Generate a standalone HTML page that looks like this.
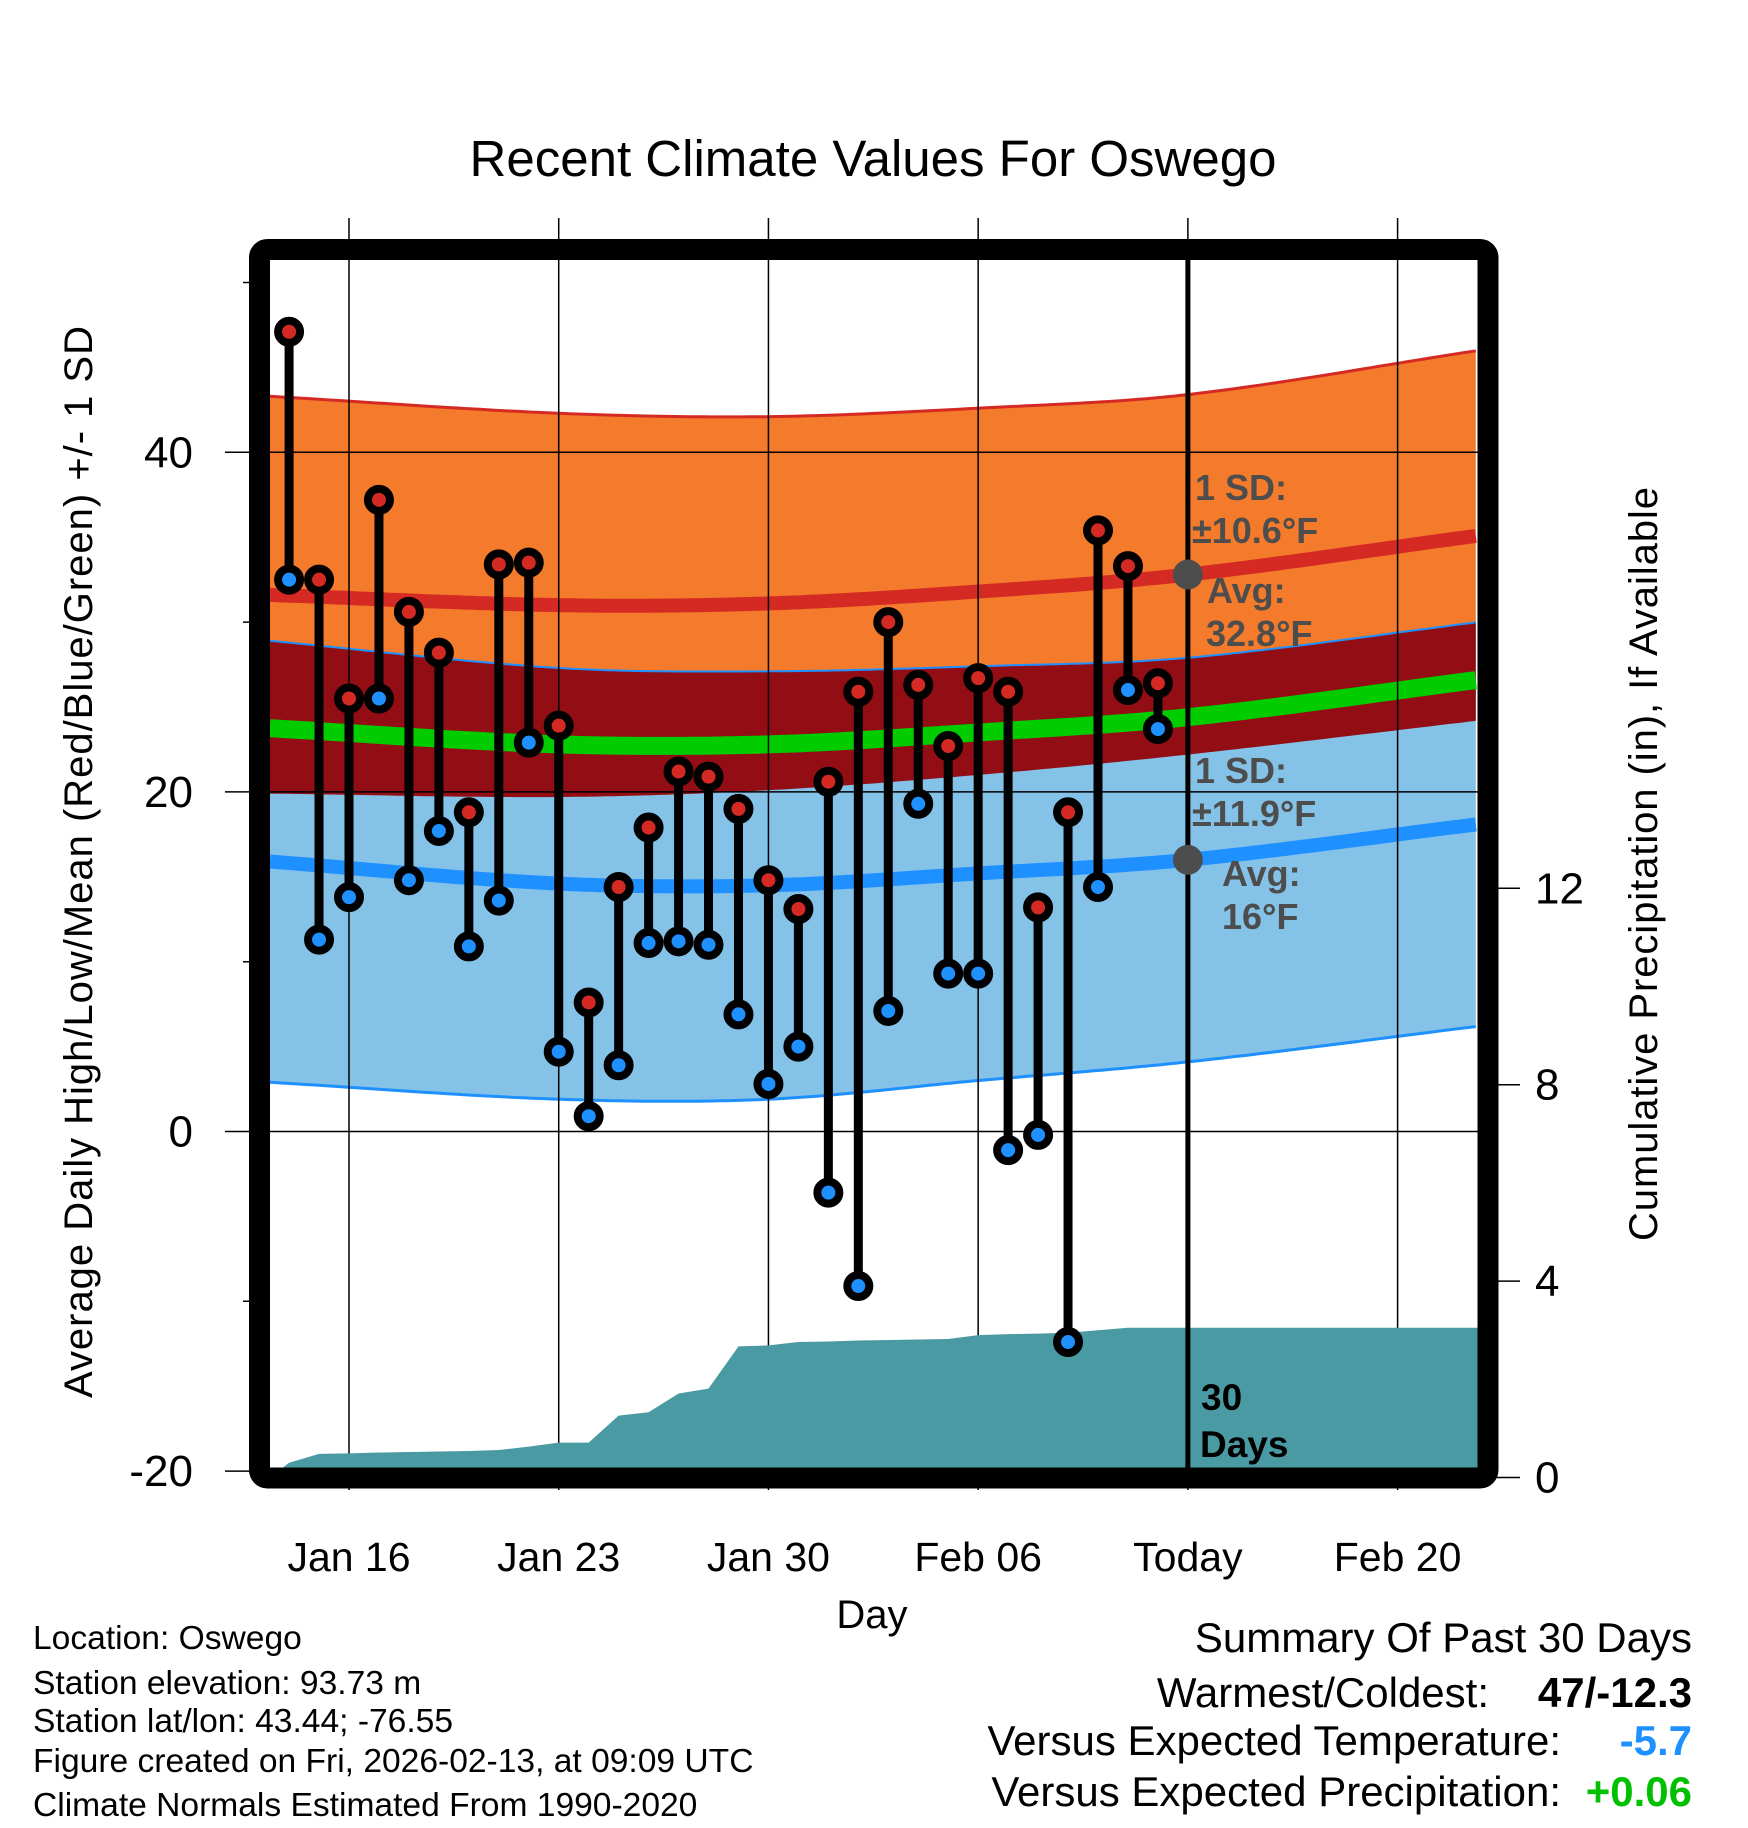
<!DOCTYPE html>
<html><head><meta charset="utf-8"><style>
html,body{margin:0;padding:0;background:#fff}
svg{display:block;font-family:"Liberation Sans",Arial,sans-serif}
</style></head><body>
<svg id="chart" width="1748" height="1828" viewBox="0 0 1748 1828" xmlns="http://www.w3.org/2000/svg">
<g id="bands"></g>
<g id="grid"></g>
<g id="precip"></g>
<g id="marks"></g>
<g id="axes"></g>
<text x="873" y="176" text-anchor="middle" font-size="51">Recent Climate Values For Oswego</text>
<text x="872" y="1628" text-anchor="middle" font-size="40">Day</text>
<text transform="translate(92,862) rotate(-90)" text-anchor="middle" font-size="40" textLength="1072">Average Daily High/Low/Mean (Red/Blue/Green) +/- 1 SD</text>
<text transform="translate(1657,864) rotate(-90)" text-anchor="middle" font-size="40" textLength="754">Cumulative Precipitation (in), If Available</text>
<g font-size="33.6">
<text x="33" y="1649">Location: Oswego</text>
<text x="33" y="1694">Station elevation: 93.73 m</text>
<text x="33" y="1732">Station lat/lon: 43.44; -76.55</text>
<text x="33" y="1772">Figure created on Fri, 2026-02-13, at 09:09 UTC</text>
<text x="33" y="1816">Climate Normals Estimated From 1990-2020</text>
</g>
<g font-size="42">
<text x="1692" y="1652" text-anchor="end">Summary Of Past 30 Days</text>
<text x="1489" y="1707" text-anchor="end">Warmest/Coldest:</text>
<text x="1692" y="1707" text-anchor="end" font-weight="bold">47/-12.3</text>
<text x="1561" y="1755" text-anchor="end">Versus Expected Temperature:</text>
<text x="1692" y="1755" text-anchor="end" font-weight="bold" fill="#1e90ff">-5.7</text>
<text x="1561" y="1806" text-anchor="end">Versus Expected Precipitation:</text>
<text x="1692" y="1806" text-anchor="end" font-weight="bold" fill="#00c000">+0.06</text>
</g>
</svg>
<script>
const days = ['Jan14','Jan15','Jan16','Jan17','Jan18','Jan19','Jan20','Jan21','Jan22','Jan23','Jan24','Jan25','Jan26','Jan27','Jan28','Jan29','Jan30','Jan31','Feb01','Feb02','Feb03','Feb04','Feb05','Feb06','Feb07','Feb08','Feb09','Feb10','Feb11','Feb12'];
const highs = [47.1,32.5,25.5,37.2,30.6,28.2,18.8,33.4,33.5,23.9,7.6,14.4,17.9,21.2,20.9,19.0,14.8,13.1,20.6,25.9,30.0,26.3,22.7,26.7,25.9,13.2,18.8,35.4,33.3,26.4];
const lows = [32.5,11.3,13.8,25.5,14.8,17.7,10.9,13.6,22.9,4.7,0.9,3.9,11.1,11.2,11.0,6.9,2.8,5.0,-3.6,-9.1,7.1,19.3,9.3,9.3,-1.1,-0.2,-12.4,14.4,26.0,23.7];
const precip = [0.30,0.48,0.49,0.51,0.52,0.53,0.54,0.56,0.63,0.71,0.71,1.26,1.33,1.71,1.81,2.67,2.69,2.76,2.77,2.79,2.80,2.81,2.82,2.90,2.92,2.93,2.95,3.00,3.05,3.05];
const normDays = [-2.64,7,14,21,28,37.7];
const hiMean = [31.6,31.0,31.1,31.8,32.8,35.1];
const hiSD = [11.7,11.3,11.0,10.8,10.6,10.9];
const loMean = [15.9,14.6,14.5,15.2,16.0,18.1];
const loSD = [13.0,12.7,12.6,12.2,11.9,11.9];
const xTicks = ['Jan 16','Jan 23','Jan 30','Feb 06','Today','Feb 20'];
const yTicks = [-20,0,20,40];
const y2Ticks = [0,4,8,12];

const NS='http://www.w3.org/2000/svg';
const X0=270,X1=1478,Y0=260,Y1=1468;
const dayIdx0=-2;
function xDay(d){return 349+d*29.96;}
function yT(v){return 1131.5-16.98*v;}
function yP(v){return 1477.5-49.1*v;}
function mk(tag,attrs,parent){const e=document.createElementNS(NS,tag);for(const k in attrs)e.setAttribute(k,attrs[k]);parent.appendChild(e);return e;}
function interp(arr,d){const n=normDays.length;
 for(let i=0;i<n-1;i++){if(d<=normDays[i+1]||i==n-2){
  const x0=normDays[i],x1=normDays[i+1],t=(d-x0)/(x1-x0);
  const m=j=>{const a=Math.max(0,j-1),b=Math.min(n-1,j+1);return (arr[b]-arr[a])/(normDays[b]-normDays[a]);};
  const h=x1-x0,t2=t*t,t3=t2*t;
  return (2*t3-3*t2+1)*arr[i]+(t3-2*t2+t)*h*m(i)+(-2*t3+3*t2)*arr[i+1]+(t3-t2)*h*m(i+1);}}
 return arr[n-1];}
const samples=[];for(let d=normDays[0];d<=normDays[normDays.length-1]+0.001;d+=0.25)samples.push(d);
function curve(f){return samples.map(d=>[xDay(d),f(d)]);}
function pts(a){return a.map(p=>p[0].toFixed(1)+','+p[1].toFixed(1)).join(' ');}
const hiU=curve(d=>yT(interp(hiMean,d)+interp(hiSD,d)));
const hiL=curve(d=>yT(interp(hiMean,d)-interp(hiSD,d)));
const loU=curve(d=>yT(interp(loMean,d)+interp(loSD,d)));
const loL=curve(d=>yT(interp(loMean,d)-interp(loSD,d)));
const hiM=curve(d=>yT(interp(hiMean,d)));
const loM=curve(d=>yT(interp(loMean,d)));
const mM=curve(d=>yT((interp(hiMean,d)+interp(loMean,d))/2));
const bands=document.getElementById('bands');
let e;
e=mk('polygon',{points:pts(hiU)+' '+pts(hiL.slice().reverse()),fill:'#f47a2c'},bands);


e=mk('polygon',{points:pts(loU)+' '+pts(loL.slice().reverse()),fill:'#84c2e8'},bands);


e=mk('polygon',{points:pts(loU)+' '+pts(hiL.slice().reverse()),fill:'#920e14'},bands);


e=mk('polyline',{points:pts(hiU),fill:'none',stroke:'#d42a23','stroke-width':3},bands);


e=mk('polyline',{points:pts(loU),fill:'none',stroke:'#1e90ff','stroke-width':2},bands);


e=mk('polyline',{points:pts(loL),fill:'none',stroke:'#1e90ff','stroke-width':3},bands);


e=mk('polyline',{points:pts(hiM),fill:'none',stroke:'#d42a23','stroke-width':14},bands);


e=mk('polyline',{points:pts(loM),fill:'none',stroke:'#1e90ff','stroke-width':14},bands);


e=mk('polyline',{points:pts(mM),fill:'none',stroke:'#00cc00','stroke-width':18},bands);



const grid=document.getElementById('grid');
xTicks.forEach((t,i)=>{const x=xDay(i*7);
 e=mk('line',{x1:x,x2:x,y1:218,y2:1490,stroke:'#000','stroke-width':1.5},grid);
 
 
 e=mk('text',{x:x,y:1571,'text-anchor':'middle','font-size':41},grid);e.textContent=t;
 
 
});
yTicks.forEach(v=>{const y=yT(v);
 e=mk('line',{x1:225,x2:X1,y1:y,y2:y,stroke:'#000','stroke-width':1.5},grid);
 
 
 e=mk('text',{x:193,y:y+15,'text-anchor':'end','font-size':44},grid);e.textContent=v;
 
 
});
[-10,10,30,50].forEach(v=>{e=mk('line',{x1:243,x2:260,y1:yT(v),y2:yT(v),stroke:'#000','stroke-width':1.5},grid);
 
 });
y2Ticks.forEach(v=>{const y=yP(v);
 e=mk('line',{x1:1488,x2:1520,y1:y,y2:y,stroke:'#000','stroke-width':1.5},grid);
 
 
 e=mk('text',{x:1535,y:y+15,'font-size':44},grid);e.textContent=v;
 
 
});

const pg=document.getElementById('precip');
let pp=[[X0,yP(0)],[X0,yP(0)]];
precip.forEach((v,i)=>pp.push([xDay(dayIdx0+i),yP(v)]));
pp.push([X1,yP(precip[precip.length-1])]);pp.push([X1,yP(0)]);
e=mk('polygon',{points:pts(pp),fill:'#4a9aa3'},pg);



const ax=document.getElementById('axes');
const xt=xDay(28);
e=mk('line',{x1:xt,x2:xt,y1:250,y2:1470,stroke:'#000','stroke-width':5},ax);


e=mk('circle',{cx:xt,cy:yT(hiMean[4]),r:15,fill:'#4d4d4d'},ax);


e=mk('circle',{cx:xt,cy:yT(loMean[4]),r:15,fill:'#4d4d4d'},ax);



const mg=document.getElementById('marks');
days.forEach((d,i)=>{const x=xDay(dayIdx0+i);
 e=mk('line',{x1:x,x2:x,y1:yT(highs[i]),y2:yT(lows[i]),stroke:'#000','stroke-width':9},mg);
 
 
});
days.forEach((d,i)=>{const x=xDay(dayIdx0+i);
 e=mk('circle',{cx:x,cy:yT(highs[i]),r:11,fill:'#d42a23',stroke:'#000','stroke-width':8},mg);
 
 
 e=mk('circle',{cx:x,cy:yT(lows[i]),r:11,fill:'#1e90ff',stroke:'#000','stroke-width':8},mg);
 
 
});

e=mk('rect',{x:259.5,y:249.5,width:1228.5,height:1228.5,rx:8,fill:'none',stroke:'#000','stroke-width':21},ax);



const ann=[['1 SD:',1195,500],['±10.6°F',1192,543],['Avg:',1207,603],['32.8°F',1206,646],['1 SD:',1195,783],['±11.9°F',1192,826],['Avg:',1222,886],['16°F',1222,929]];
ann.forEach(a=>{e=mk('text',{x:a[1],y:a[2],'font-size':36,'font-weight':'bold',fill:'#4d4d4d'},ax);e.textContent=a[0];
 
 });
[['30',1201,1410],['Days',1200,1457]].forEach(a=>{e=mk('text',{x:a[1],y:a[2],'font-size':37,'font-weight':'bold',fill:'#000'},ax);e.textContent=a[0];
 
 });
</script>
</body></html>
